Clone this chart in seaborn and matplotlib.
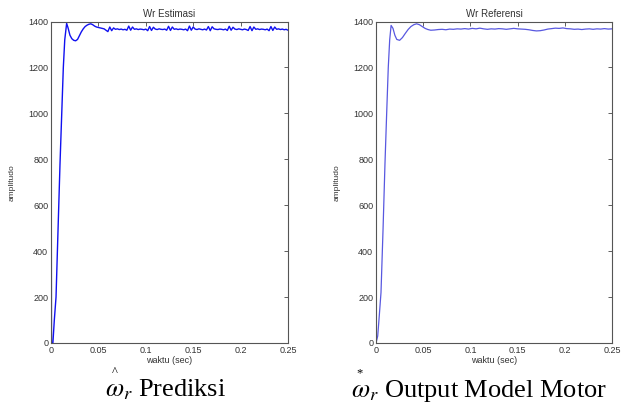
import numpy as np
import pandas as pd
import matplotlib
matplotlib.use("Agg")
import matplotlib.pyplot as plt
import seaborn as sns

# ---- data ----
# estimated speed (left), start-up part
est_t_start = [0, 0.0005, 0.002, 0.0035, 0.0053, 0.0075, 0.0095, 0.0113, 0.013, 0.0145,
               0.0165, 0.018, 0.020, 0.022, 0.024, 0.026, 0.028, 0.030, 0.032, 0.034,
               0.036, 0.038, 0.040, 0.042]
est_start = [1400, 0, 0, 100, 200, 500, 780, 1000, 1200, 1320,
             1392, 1372, 1340, 1325, 1318, 1316, 1322, 1338, 1355, 1368,
             1378, 1384, 1388, 1390]
# estimated speed, steady part, every 2 ms from 0.044 to 0.25
est_steady = [1386, 1380, 1376, 1374, 1372, 1370, 1368, 1362, 1356, 1376,
              1360, 1372, 1366, 1368, 1365, 1367, 1364, 1366, 1362, 1380,
              1362, 1376, 1366, 1368, 1365, 1367, 1366, 1364, 1367, 1360,
              1378, 1361, 1375, 1367, 1365, 1368, 1366, 1365, 1367, 1362,
              1379, 1361, 1376, 1366, 1368, 1365, 1367, 1366, 1364, 1367,
              1360, 1380, 1362, 1376, 1367, 1365, 1368, 1366, 1364, 1367,
              1363, 1378, 1360, 1377, 1368, 1366, 1365, 1367, 1366, 1364,
              1367, 1361, 1379, 1362, 1375, 1367, 1365, 1368, 1366, 1364,
              1367, 1365, 1361, 1378, 1360, 1376, 1366, 1368, 1365, 1367,
              1366, 1364, 1367, 1360, 1378, 1361, 1376, 1366, 1368, 1365,
              1367, 1364, 1366, 1362]

# reference speed (right), start-up part
ref_t_start = [0, 0.0018, 0.0035, 0.0053, 0.0075, 0.0095, 0.0113, 0.013, 0.0145, 0.016,
               0.018, 0.020, 0.022, 0.025, 0.028, 0.031, 0.034, 0.037, 0.040, 0.043,
               0.046, 0.049, 0.052, 0.055, 0.058]
ref_start = [0, 30, 120, 220, 500, 780, 1000, 1200, 1320, 1383,
             1370, 1340, 1322, 1318, 1330, 1348, 1365, 1378, 1386, 1390,
             1386, 1378, 1370, 1365, 1362]
# reference speed, steady part, every 4 ms from 0.062 to 0.25
ref_steady = [1363, 1365, 1366, 1364, 1367, 1366, 1368, 1367, 1369, 1367,
              1370, 1368, 1371, 1368, 1366, 1368, 1367, 1369, 1368, 1366,
              1368, 1370, 1368, 1367, 1366, 1364, 1361, 1359, 1360, 1363,
              1367, 1369, 1371, 1370, 1372, 1369, 1368, 1366, 1367, 1365,
              1367, 1368, 1366, 1368, 1367, 1369, 1367, 1368]

x_ticks = [0, 0.05, 0.1, 0.15, 0.2, 0.25]
x_tick_labels = ["0", "0.05", "0.1", "0.15", "0.2", "0.25"]
y_ticks = [0, 200, 400, 600, 800, 1000, 1200, 1400]

est_t = list(est_t_start) + list(np.linspace(0.044, 0.25, len(est_steady)))
ref_t = list(ref_t_start) + list(np.linspace(0.062, 0.25, len(ref_steady)))
df_est = pd.DataFrame({"t": est_t, "w": list(est_start) + est_steady})
df_ref = pd.DataFrame({"t": ref_t, "w": list(ref_start) + ref_steady})

sns.set_style("white")
plt.rcParams["font.family"] = ["Liberation Sans", "DejaVu Sans"]
plt.rcParams["mathtext.fontset"] = "stix"

fig = plt.figure(figsize=(6.21, 4.03), dpi=100)
ax1 = fig.add_axes([51 / 621, 1 - 343 / 403, 237 / 621, 321.5 / 403])
ax2 = fig.add_axes([376 / 621, 1 - 343 / 403, 236 / 621, 321.5 / 403])

sns.lineplot(data=df_est, x="t", y="w", ax=ax1, sort=False, estimator=None,
             color="#1010f0", linewidth=1.0)
sns.lineplot(data=df_ref, x="t", y="w", ax=ax2, sort=False, estimator=None,
             color="#5858e0", linewidth=0.9)

for ax, title in [(ax1, "Wr Estimasi"), (ax2, "Wr Referensi")]:
    ax.set_xlim(0, 0.25)
    ax.set_ylim(0, 1400)
    ax.set_xticks(x_ticks)
    ax.set_xticklabels(x_tick_labels)
    ax.set_yticks(y_ticks)
    ax.tick_params(direction="in", length=3, width=0.6, labelsize=6.5,
                   top=True, right=True, pad=2, colors="#444444",
                   labelcolor="#333333")
    for s in ax.spines.values():
        s.set_color("#555555")
        s.set_linewidth(0.8)
    ax.set_title(title, fontsize=7, color="#333333", pad=3)
    ax.set_xlabel("waktu (sec)", fontsize=6.5, color="#333333", labelpad=1)
    ax.set_ylabel("amplitudo", fontsize=6, color="#333333")
    ax.yaxis.set_label_coords(-0.15, 0.5)

# captions under the plots
fig.text(105 / 621, 0.016, r"$\omega_r$" + " Prediksi", fontsize=19,
         family="Liberation Serif", color="black", ha="left", va="baseline")
fig.text(115 / 621, 1 - 375 / 403, "^", fontsize=9,
         family="Liberation Serif", color="black", ha="center", va="baseline")
fig.text(351 / 621, 0.016, r"$\omega_r$" + " Output Model Motor", fontsize=19,
         family="Liberation Serif", color="black", ha="left", va="baseline")
fig.text(360 / 621, 1 - 376 / 403, "*", fontsize=9,
         family="Liberation Serif", color="black", ha="center", va="baseline")

fig.savefig("out.png", dpi=100, facecolor="white")
